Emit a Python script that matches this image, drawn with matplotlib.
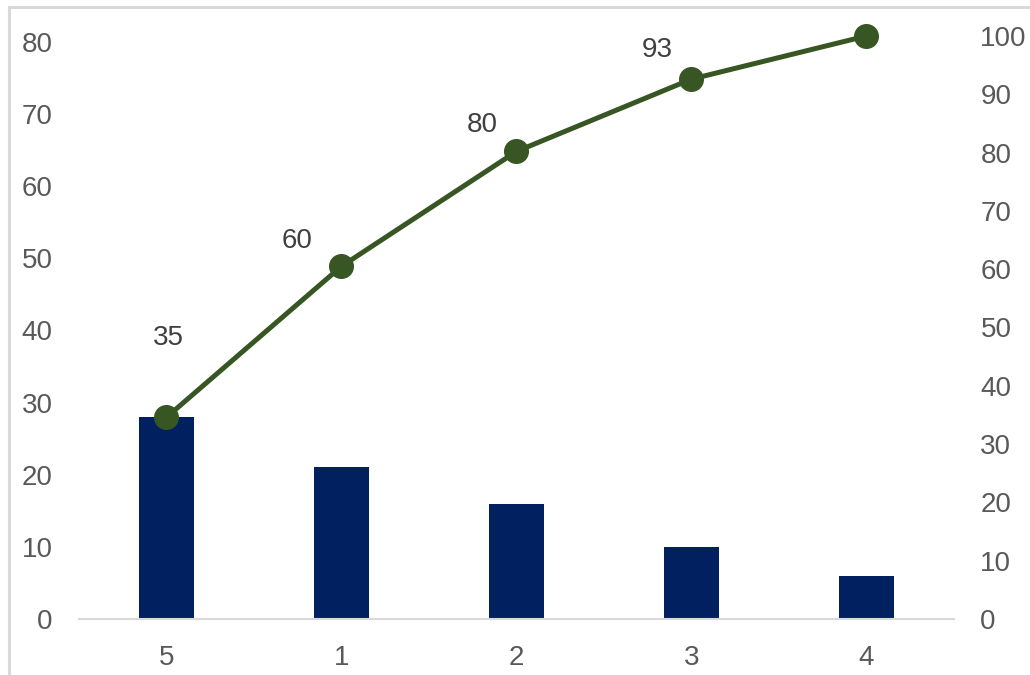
import matplotlib.pyplot as plt
from matplotlib.patches import Rectangle

plt.rcParams['font.family'] = ['Liberation Sans', 'DejaVu Sans']

# Data
categories = ['5', '1', '2', '3', '4']
counts = [28, 21, 16, 10, 6]
cum_pct = [34.6, 60.5, 80.2, 92.6, 100]
pct_labels = ['35', '60', '80', '93']

bar_color = '#002060'
line_color = '#375623'
tick_color = '#595959'

fig = plt.figure(figsize=(10.3, 6.75), dpi=100)
ax = fig.add_axes([0.0767, 0.0830, 0.8495, 0.8637])
x = list(range(len(categories)))

ax.bar(x, counts, width=0.31, color=bar_color, zorder=2)
ax.set_xlim(-0.5, len(categories) - 0.5)
ax.set_ylim(0, 80.8)
ax.set_yticks(range(0, 81, 10))
ax.set_xticks(x)
ax.set_xticklabels(categories)

ax2 = ax.twinx()
ax2.plot(x, cum_pct, color=line_color, lw=3.6, marker='o', ms=17, zorder=3, clip_on=False)
ax2.set_ylim(0, 100)
ax2.set_yticks(range(0, 101, 10))

# data labels (Excel put them above-left of the markers)
offsets = [(1.5, 57), (-32, 18), (-25, 19), (-25, 21)]
for i, lab in enumerate(pct_labels):
    ax2.annotate(lab, (x[i], cum_pct[i]), xytext=offsets[i], textcoords='offset points',
                 ha='center', va='center', fontsize=20, color='#404040')

for a in (ax, ax2):
    for s in a.spines.values():
        s.set_visible(False)
    a.tick_params(length=0, labelsize=20, labelcolor=tick_color)
ax.tick_params(axis='y', pad=19)
ax2.tick_params(axis='y', pad=19)
ax.tick_params(axis='x', pad=19)
ax.spines['bottom'].set_visible(True)
ax.spines['bottom'].set_color('#d9d9d9')
ax.spines['bottom'].set_linewidth(1.5)

# outer chart border
fig.patches.append(Rectangle((9 / 1030, -0.1), 1.2, 1.1 - 7 / 675, transform=fig.transFigure,
                             fill=False, edgecolor='#d9d9d9', lw=2.2))

fig.savefig('out.png', dpi=100)
